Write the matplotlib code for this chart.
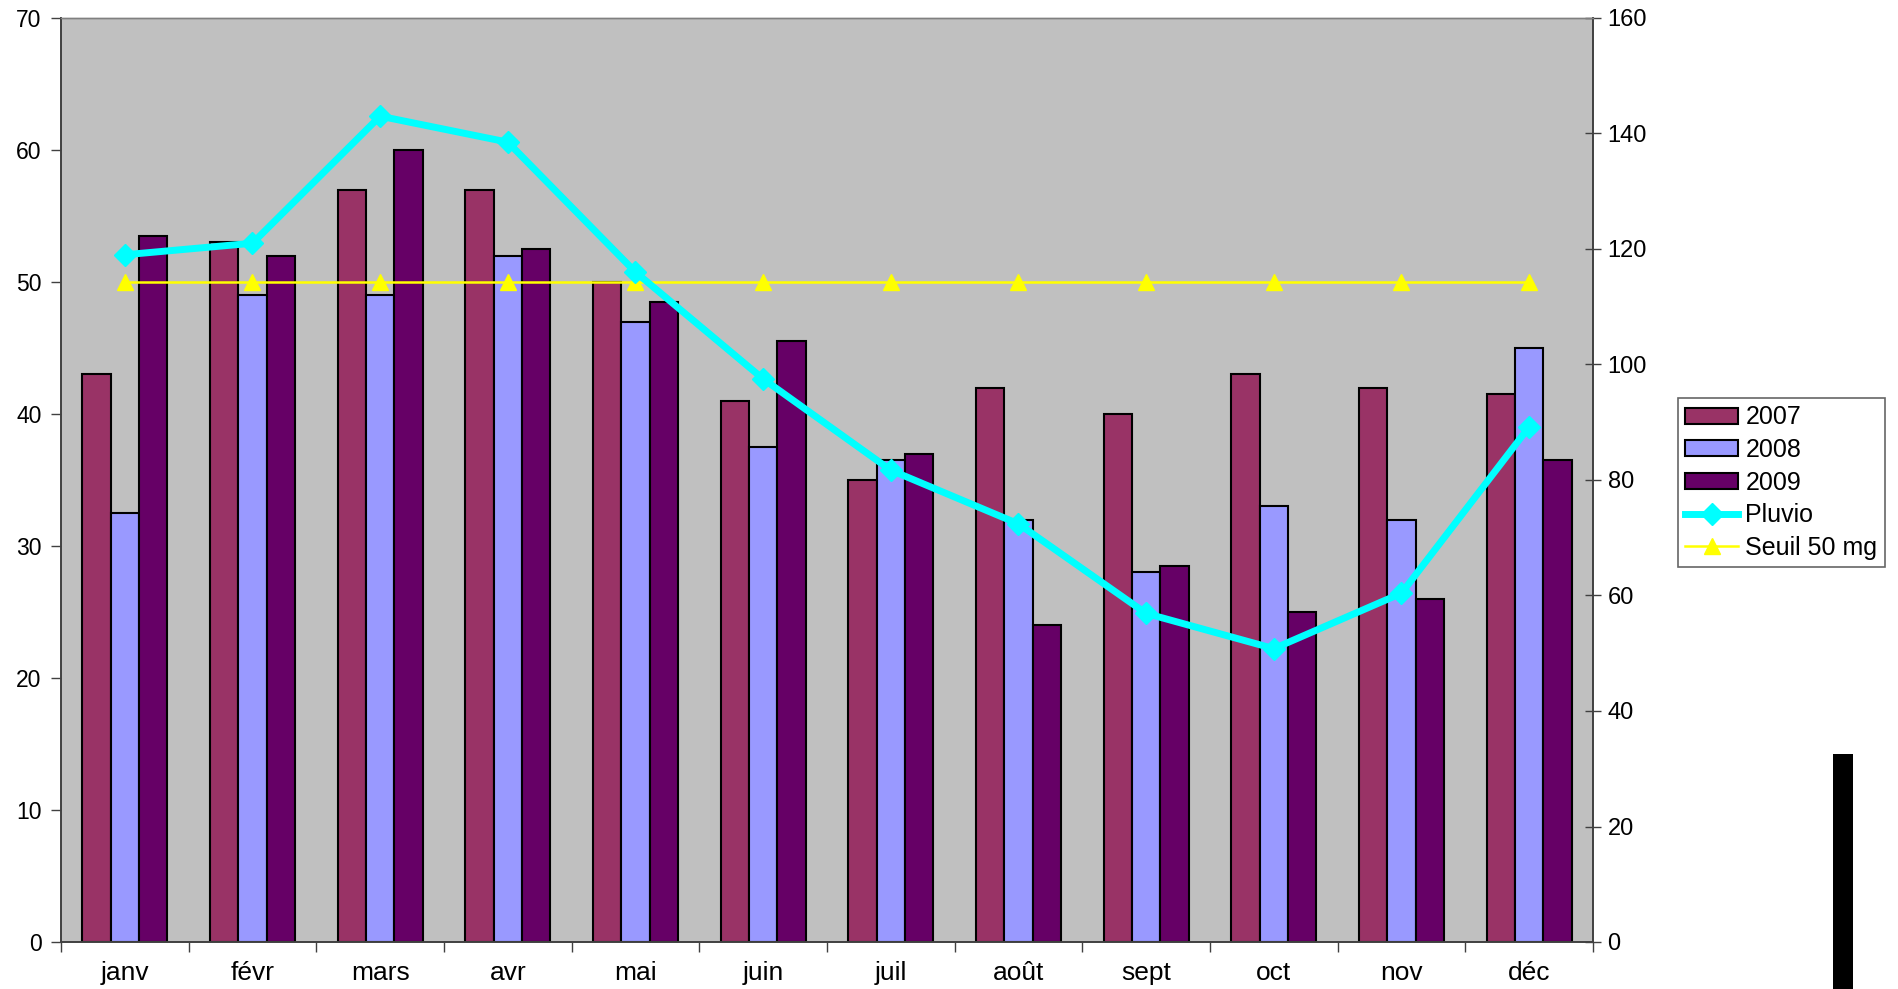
import matplotlib
matplotlib.use("Agg")
import matplotlib.pyplot as plt
from matplotlib.patches import Rectangle
from matplotlib.lines import Line2D
from matplotlib.patches import Patch
import numpy as np

plt.rcParams['font.family'] = ['Liberation Sans', 'DejaVu Sans']

months = ["janv", "févr", "mars", "avr", "mai", "juin", "juil", "août", "sept", "oct", "nov", "déc"]
v2007 = [43, 53, 57, 57, 50, 41, 35, 42, 40, 43, 42, 41.5]
v2008 = [32.5, 49, 49, 52, 47, 37.5, 36.5, 32, 28, 33, 32, 45]
v2009 = [53.5, 52, 60, 52.5, 48.5, 45.5, 37, 24, 28.5, 25, 26, 36.5]
pluvio = [119, 121, 143, 138.5, 116, 97.5, 81.7, 72.4, 56.9, 50.8, 60.4, 89.2]
seuil = [50] * 12

W, H = 1899, 989
fig = plt.figure(figsize=(W / 100, H / 100), dpi=100)
ax = fig.add_axes([61 / W, 1 - 942 / H, (1593 - 61) / W, (942 - 18) / H])
ax.set_facecolor('#C0C0C0')

x = np.arange(len(months))
bw = 0.222
c07, c08, c09 = '#993366', '#9999FF', '#660066'
ax.bar(x - bw, v2007, bw, color=c07, edgecolor='black', linewidth=1.5, zorder=2)
ax.bar(x, v2008, bw, color=c08, edgecolor='black', linewidth=1.5, zorder=2)
ax.bar(x + bw, v2009, bw, color=c09, edgecolor='black', linewidth=1.5, zorder=2)
ax.plot(x, seuil, color='#FFFF00', linewidth=1.8, marker='^', markersize=11,
        markeredgecolor='#FFFF00', markerfacecolor='#FFFF00', zorder=3)

ax.set_xlim(-0.5, len(months) - 0.5)
ax.set_ylim(0, 70)
ax.set_yticks(np.arange(0, 71, 10))
ax.set_xticks(x)
ax.set_xticklabels(months)
ax.set_xticks(np.arange(-0.5, len(months), 1), minor=True)
ax.tick_params(axis='x', which='major', length=0, pad=14, labelsize=19)
ax.tick_params(axis='x', which='minor', length=7, direction='out', color='#404040', width=1)
ax.tick_params(axis='y', length=7, direction='out', color='#404040', width=1, pad=7, labelsize=16.5)

ax2 = ax.twinx()
ax2.plot(x, pluvio, color='#00FFFF', linewidth=5, marker='D', markersize=11,
         markeredgecolor='#00FFFF', markerfacecolor='#00FFFF', zorder=4)
ax2.set_ylim(0, 160)
ax2.set_yticks(np.arange(0, 161, 20))
ax2.tick_params(axis='y', length=11, direction='inout', color='#404040', width=1, pad=5, labelsize=17)

for a in (ax, ax2):
    for s in ('left', 'bottom', 'right'):
        a.spines[s].set_color('#404040')
        a.spines[s].set_linewidth(1.2)
    a.spines['top'].set_color('#808080')
    a.spines['top'].set_linewidth(1)

handles = [
    Patch(facecolor=c07, edgecolor='black', linewidth=1.5),
    Patch(facecolor=c08, edgecolor='black', linewidth=1.5),
    Patch(facecolor=c09, edgecolor='black', linewidth=1.5),
    Line2D([], [], color='#00FFFF', linewidth=5, marker='D', markersize=11),
    Line2D([], [], color='#FFFF00', linewidth=1.8, marker='^', markersize=11),
]
labels = ["2007", "2008", "2009", "Pluvio", "Seuil 50 mg"]
leg = fig.legend(handles, labels, loc='upper left',
                 bbox_to_anchor=(1678 / W, 1 - 398 / H), bbox_transform=fig.transFigure,
                 fontsize=18, frameon=True, fancybox=False, shadow=False,
                 handlelength=2.1, handleheight=0.6, labelspacing=0.34,
                 handletextpad=0.3, borderpad=0.3, borderaxespad=0)
leg.get_frame().set_edgecolor('#404040')
leg.get_frame().set_linewidth(1.2)

fig.patches.append(Rectangle((1833 / W, 0), 20 / W, (989 - 754) / H,
                             transform=fig.transFigure, facecolor='black', edgecolor='none'))

fig.savefig('out.png', dpi=100, facecolor='white')
